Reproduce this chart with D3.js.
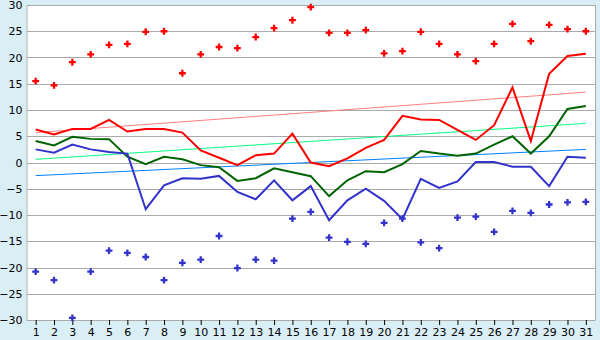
<!DOCTYPE html>
<html lang="en">
<head>
<meta charset="UTF-8">
<title>Daily temperatures</title>
<script src="https://d3js.org/d3.v7.min.js"></script>
<style>
    body { margin: 0; background: #daeef5; }
    .tick text { font: 11px "DejaVu Sans", Verdana, sans-serif; fill: #000; }
    .grid line { stroke: #aaaaaa; stroke-width: 1px; shape-rendering: crispEdges; }
    .data-line { fill: none; stroke-width: 2px; stroke-linejoin: miter; }
    .trend { fill: none; stroke-width: 1px; }
</style>
</head>
<body>
<div id="chart"></div>
<script>
    const days = d3.range(1, 32);
    const yTicks = [-30, -25, -20, -15, -10, -5, 0, 5, 10, 15, 20, 25, 30];

    const maxPoints = [15.5, 14.7, 19.1, 20.6, 22.4, 22.6, 24.9, 25.0, 17.0, 20.6,
                       22.0, 21.8, 23.9, 25.6, 27.1, 29.6, 24.7, 24.7, 25.2, 20.8,
                       21.2, 24.9, 22.6, 20.6, 19.3, 22.6, 26.4, 23.1, 26.2, 25.4, 25.0];
    const minPoints = [-20.8, -22.4, -29.6, -20.8, -16.8, -17.2, -18.0, -22.4, -19.1, -18.5,
                       -14.0, -20.1, -18.5, -18.7, -10.7, -9.4, -14.3, -15.1, -15.5, -11.5,
                       -10.7, -15.2, -16.3, -10.5, -10.3, -13.2, -9.2, -9.6, -8.0, -7.6, -7.5];
    const redLine = [6.3, 5.35, 6.4, 6.4, 8.1, 5.9, 6.4, 6.4, 5.7, 2.3,
                     0.9, -0.5, 1.4, 1.7, 5.5, 0.0, -0.7, 0.8, 2.8, 4.3,
                     8.9, 8.2, 8.1, 6.2, 4.3, 7.1, 14.3, 4.1, 16.9, 20.3, 20.7];
    const greenLine = [4.1, 3.25, 4.9, 4.5, 4.45, 1.1, -0.3, 1.1, 0.6, -0.5,
                       -0.9, -3.5, -3.0, -1.1, -1.85, -2.6, -6.4, -3.4, -1.65, -1.85,
                       -0.3, 2.2, 1.7, 1.3, 1.7, 3.4, 5.0, 1.7, 5.0, 10.2, 10.75];
    const blueLine = [2.5, 1.85, 3.4, 2.5, 2.0, 1.7, -8.9, -4.35, -3.0, -3.1,
                      -2.55, -5.6, -7.0, -3.4, -7.2, -4.5, -11.0, -7.2, -5.0, -7.3,
                      -10.8, -3.1, -4.85, -3.6, 0.1, 0.1, -0.8, -0.8, -4.5, 1.1, 0.9];
    // trend lines: value at day 1 and day 31
    const redTrend = [5.7, 13.4];
    const greenTrend = [0.6, 7.45];
    const blueTrend = [-2.5, 2.5];

    const W = 600, H = 340;
    const margin = {top: 5, right: 5, bottom: 20, left: 26.5};
    const width = W - margin.left - margin.right;
    const height = H - margin.top - margin.bottom;

    const svg = d3.select("#chart").append("svg")
        .attr("width", W).attr("height", H)
        .style("display", "block");

    const g = svg.append("g").attr("transform", `translate(${margin.left},${margin.top})`);

    g.append("rect").attr("width", width).attr("height", height).attr("fill", "#fff");

    const x = d3.scalePoint().domain(days).range([0, width]).padding(0.5);
    const y = d3.scaleLinear().domain([-30, 30]).range([height, 0]);

    // gridlines
    g.append("g").attr("class", "grid")
        .selectAll("line").data(yTicks).join("line")
        .attr("x1", 0).attr("x2", width)
        .attr("y1", d => Math.round(y(d)) + 0.5).attr("y2", d => Math.round(y(d)) + 0.5);

    // right border
    g.append("line").attr("x1", width + 0.5).attr("x2", width + 0.5).attr("y1", 0).attr("y2", height)
        .attr("stroke", "#aaaaaa");

    // y axis
    const yAxis = g.append("g")
        .call(d3.axisLeft(y).tickValues(yTicks).tickSize(0).tickPadding(4));
    yAxis.select(".domain").attr("stroke", "#aaaaaa");

    // x axis
    const xAxis = g.append("g").attr("transform", `translate(0,${height})`)
        .call(d3.axisBottom(x).tickSize(5).tickPadding(3).tickSizeOuter(0));
    xAxis.select(".domain").attr("stroke", "#aaaaaa");
    xAxis.selectAll(".tick line").attr("stroke", "#000");

    // trend lines
    const trends = [
        {v: redTrend, c: "#ff8080"},
        {v: greenTrend, c: "#00ff80"},
        {v: blueTrend, c: "#0080ff"}
    ];
    trends.forEach(t => {
        g.append("line").attr("class", "trend")
            .attr("x1", x(1)).attr("x2", x(31))
            .attr("y1", y(t.v[0])).attr("y2", y(t.v[1]))
            .attr("stroke", t.c);
    });

    const line = d3.line().x((d, i) => x(days[i])).y(d => y(d));
    [[redLine, "#ff0000"], [greenLine, "#006400"], [blueLine, "#3333cc"]].forEach(([vals, c]) => {
        g.append("path").datum(vals).attr("class", "data-line")
            .attr("stroke", c).attr("d", line);
    });

    const sym = d3.symbol().type(d3.symbolCross).size(26);
    g.selectAll(".max").data(maxPoints).join("path").attr("class", "max")
        .attr("d", sym).attr("fill", "#ff0000")
        .attr("transform", (d, i) => `translate(${x(days[i])},${y(d)})`);
    g.selectAll(".min").data(minPoints).join("path").attr("class", "min")
        .attr("d", sym).attr("fill", "#3333cc")
        .attr("transform", (d, i) => `translate(${x(days[i])},${y(d)})`);
</script>
</body>
</html>
